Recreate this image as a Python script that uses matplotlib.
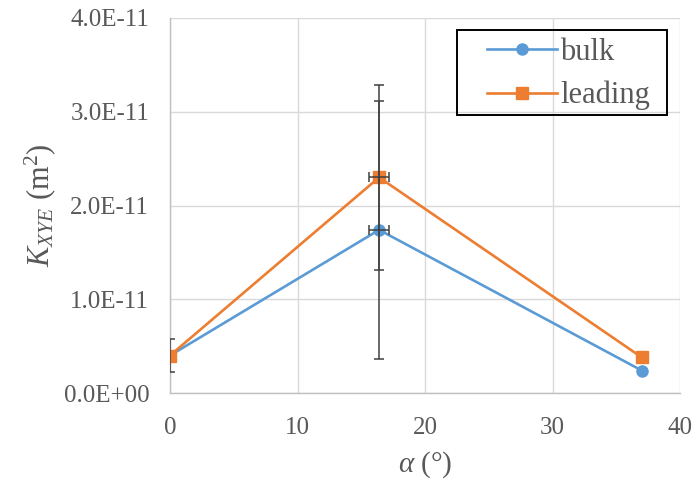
import matplotlib
matplotlib.use("Agg")
import matplotlib.pyplot as plt
from matplotlib.patches import Rectangle

alpha = [0, 16.4, 37]
bulk = [0.40e-11, 1.74e-11, 0.24e-11]
leading = [0.40e-11, 2.30e-11, 0.38e-11]
bulk_yerr = [0.18e-11, 1.38e-11, 0.0]
leading_yerr = [0.0, 0.99e-11, 0.0]
xerr = [0.0, 0.8, 0.0]
yticks = [0, 1e-11, 2e-11, 3e-11, 4e-11]
ytick_labels = ["0.0E+00", "1.0E-11", "2.0E-11", "3.0E-11", "4.0E-11"]
xticks = [0, 10, 20, 30, 40]

plt.rcParams['font.family'] = ['Liberation Serif', 'DejaVu Serif']
plt.rcParams['mathtext.fontset'] = 'custom'
plt.rcParams['mathtext.rm'] = 'Liberation Serif'
plt.rcParams['mathtext.it'] = 'Liberation Serif:italic'

W, H = 696, 487
fig = plt.figure(figsize=(W/100, H/100), dpi=100)
ax = fig.add_axes([170/W, 1-393/H, 510/W, 375/H])

c_bulk = '#5B9BD5'
c_lead = '#ED7D31'
ecol = '#404040'

ax.plot(alpha, bulk, '-o', color=c_bulk, lw=1.9, ms=8, label='bulk', zorder=3)
ax.plot(alpha, leading, '-s', color=c_lead, lw=1.9, ms=8.5, label='leading', zorder=4)

for xs, ys, yerrs in [(alpha, bulk, bulk_yerr), (alpha, leading, leading_yerr)]:
    for xv, yv, ye, xe in zip(xs, ys, yerrs, xerr):
        if ye > 0:
            ax.errorbar([xv], [yv], yerr=[ye], fmt='none', ecolor=ecol,
                        elinewidth=1.1, capsize=3.5, capthick=1.1, zorder=5)
        if xe > 0:
            ax.errorbar([xv], [yv], xerr=[xe], fmt='none', ecolor=ecol,
                        elinewidth=1.1, capsize=3.5, capthick=1.1, zorder=5)

ax.set_xlim(0, 40)
ax.set_ylim(0, 4e-11)
ax.set_xticks(xticks)
ax.set_xticklabels([str(t) for t in xticks])
ax.set_yticks(yticks)
ax.set_yticklabels(ytick_labels)
ax.grid(True, color='#D9D9D9', lw=1.0, zorder=0)
ax.set_axisbelow(True)
for s in ['top', 'right']:
    ax.spines[s].set_visible(False)
for s in ['left', 'bottom']:
    ax.spines[s].set_color('#BFBFBF')
    ax.spines[s].set_linewidth(1.0)
ax.tick_params(axis='y', length=0, labelsize=18, colors='#595959', pad=15)
ax.tick_params(axis='x', length=0, labelsize=18, colors='#595959', pad=17)

ax.set_xlabel(r'$\alpha$ (°)', fontsize=21, color='#595959', labelpad=8)
ax.set_ylabel(r'$K_{XYE}$ (m$^2$)', fontsize=22, color='#595959', labelpad=4)

leg = ax.legend(loc='upper left', bbox_to_anchor=(487/W, 1-38/H),
                bbox_transform=fig.transFigure, fontsize=22, frameon=False,
                handlelength=2.3, borderpad=0, labelspacing=0.45,
                handletextpad=0.1, borderaxespad=0)
for t in leg.get_texts():
    t.set_color('#595959')

fig.add_artist(Rectangle((457/W, 1-115/H), 210/W, 85/H, transform=fig.transFigure,
                         fill=False, edgecolor='black', lw=1.4, zorder=6))

fig.savefig('out.png', dpi=100, facecolor='white')
